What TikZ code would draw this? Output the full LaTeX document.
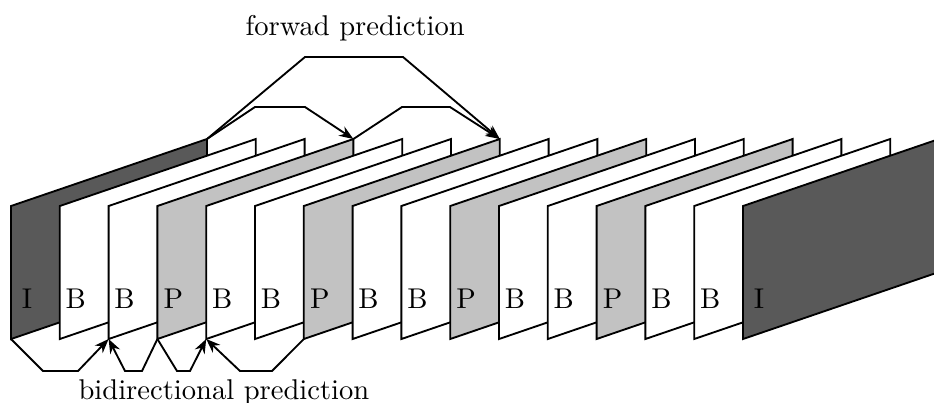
\documentclass[tikz,border=0pt]{standalone}
\usetikzlibrary{arrows.meta}
\begin{document}
\begin{tikzpicture}[x=0.35pt,y=-0.35pt,
  frame/.style={draw=black,line width=0.65pt,line join=miter},
  lbl/.style={font=\fontsize{10}{12}\selectfont,inner sep=0pt,anchor=base},
  conn/.style={line width=0.65pt},
  arr/.style={conn,-{Stealth[length=5pt,width=3.8pt]}},
  ]
\useasboundingbox (0,0) rectangle (934,402);
\begin{scope}
\clip (0,0) rectangle (934,402);
\foreach \t/\c [count=\k from 0] in {I/black!65,B/white,B/white,P/black!24,B/white,B/white,P/black!24,B/white,B/white,P/black!24,B/white,B/white,P/black!24,B/white,B/white,I/black!65} {
  \pgfmathsetmacro{\L}{11+48.8*\k}
  \coordinate (tl\k) at (\L,206);
  \coordinate (tr\k) at (\L+196,139);
  \coordinate (br\k) at (\L+196,272);
  \coordinate (bl\k) at (\L,339);
  \draw[frame,fill=\c] (tl\k) -- (tr\k) -- (br\k) -- (bl\k) -- cycle;
  \node[lbl] (lab\k) at (\L+16,308) {\t};
}
\end{scope}
% forward prediction
\draw[arr] (tr0) -- (305,57) -- (403,57) -- (tr6);
\draw[arr] (tr0) -- (255,107) -- (305,107) -- (tr3);
\draw[arr] (tr3) -- (402,107) -- (450,107) -- (tr6);
% bidirectional prediction
\draw[arr] (bl0) -- (43,371) -- (78,371) -- (bl2);
\draw[arr] (bl3) -- (142,371) -- (125,371) -- (bl2);
\draw[arr] (bl3) -- (177,371) -- (190,371) -- (bl4);
\draw[arr] (bl6) -- (272,371) -- (240,371) -- (bl4);
\node[lbl,anchor=base west] (fwd) at (245,35) {forwad prediction};
\node[lbl,anchor=base west] (bidi) at (78,399) {bidirectional prediction};
\end{tikzpicture}
\end{document}
